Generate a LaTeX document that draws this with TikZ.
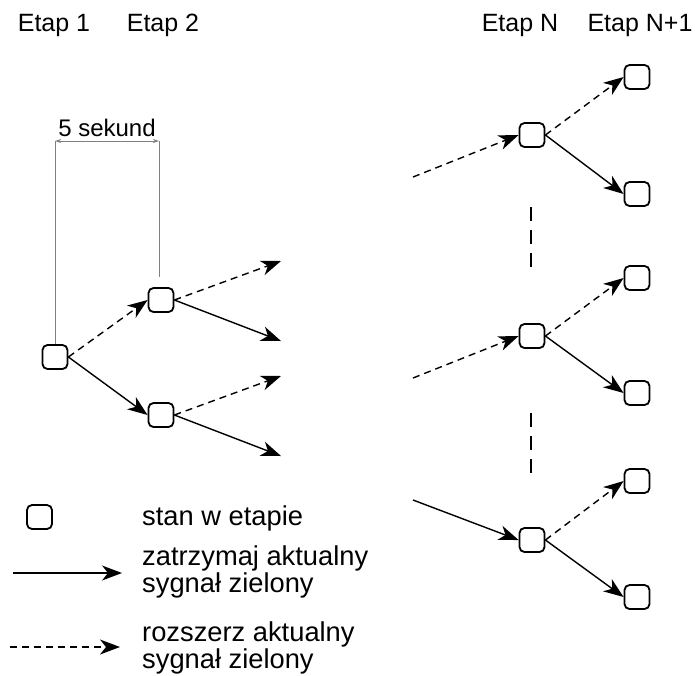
\documentclass[tikz,border=0pt]{standalone}
\usepackage{fontspec}
\setmainfont{Liberation Sans}
\usetikzlibrary{arrows.meta}
\begin{document}
\begin{tikzpicture}[x=1pt,y=-1pt,
  state/.style={draw=black,line width=1.8pt,rounded corners=5pt,
    minimum width=25pt,minimum height=24pt,inner sep=0pt},
  tip/.style={-{Stealth[length=20pt,width=15pt,inset=6pt]}},
  keep/.style={tip,line width=1.4pt},
  extend/.style={tip,line width=1.4pt,dash pattern=on 7pt off 5pt},
  guide/.style={draw=gray,line width=1pt},
  gap/.style={line width=1.2pt,dash pattern=on 14pt off 9pt},
  head/.style={font=\fontsize{25}{28}\selectfont,anchor=base,inner sep=0pt},
  legend/.style={font=\fontsize{27.3}{27}\selectfont,align=left,anchor=west,inner sep=0pt}]
\useasboundingbox (0,0) rectangle (695,675);

% stage headers
\node[head] (h1) at (54,31) {Etap 1};
\node[head] (h2) at (163,31) {Etap 2};
\node[head] (hN) at (520,31) {Etap N};
\node[head] (hN1) at (640,31) {Etap N+1};

% first two stages
\node[state] (a) at (55,357) {};
\node[state] (b1) at (161,300) {};
\node[state] (b2) at (161,415) {};
\draw[extend] (a.east) -- (b1.west);
\draw[keep] (a.east) -- (b2.west);

\coordinate (b1d) at (281,261);
\coordinate (b1s) at (281,341);
\coordinate (b2d) at (281,376);
\coordinate (b2s) at (281,456);
\draw[extend] (b1.east) -- (b1d);
\draw[keep] (b1.east) -- (b1s);
\draw[extend] (b2.east) -- (b2d);
\draw[keep] (b2.east) -- (b2s);

% time interval between stages
\coordinate (t1) at (55,141);
\coordinate (t2) at (159,141);
\draw[guide] (t1) -- (a.north);
\draw[guide] (t2) -- (159,277);
\draw[guide,{Stealth[length=6pt,width=4pt]}-{Stealth[length=6pt,width=4pt]}] (t1) -- node[above=4pt,font=\fontsize{24}{28}\selectfont,inner sep=0pt] (dt) {5 sekund} (t2);

% stages N and N+1
\node[state] (n1) at (532,135) {};
\node[state] (n2) at (532,336) {};
\node[state] (n3) at (532,540) {};
\node[state] (m1) at (637,77) {};
\node[state] (m2) at (637,194) {};
\node[state] (m3) at (637,278) {};
\node[state] (m4) at (637,393) {};
\node[state] (m5) at (637,481) {};
\node[state] (m6) at (637,597) {};

\coordinate (i1) at (413,177);
\coordinate (i2) at (413,378);
\coordinate (i3) at (413,500);
\draw[extend] (i1) -- (n1.west);
\draw[extend] (i2) -- (n2.west);
\draw[keep] (i3) -- (n3.west);

\draw[extend] (n1.east) -- (m1.west);
\draw[keep] (n1.east) -- (m2.west);
\draw[extend] (n2.east) -- (m3.west);
\draw[keep] (n2.east) -- (m4.west);
\draw[extend] (n3.east) -- (m5.west);
\draw[keep] (n3.east) -- (m6.west);

% omitted states
\coordinate (g1) at (531,207);
\coordinate (g2) at (531,270);
\coordinate (g3) at (531,413);
\coordinate (g4) at (531,477);
\draw[gap] (g1) -- (g2);
\draw[gap] (g3) -- (g4);

% legend
\node[state] (ls) at (39.5,517) {};
\node[legend] (lt1) at (142,518) {stan w etapie};
\coordinate (ka) at (13,573);
\coordinate (kb) at (122,573);
\draw[keep] (ka) -- (kb);
\node[legend] (lt2) at (142,572) {zatrzymaj aktualny\\sygnał zielony};
\coordinate (ea) at (10,647);
\coordinate (eb) at (120,647);
\draw[extend] (ea) -- (eb);
\node[legend] (lt3) at (142,648) {rozszerz aktualny\\sygnał zielony};
\end{tikzpicture}
\end{document}
